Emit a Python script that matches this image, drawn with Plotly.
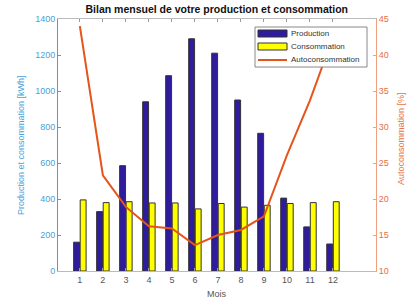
import plotly.graph_objects as go

months = list(range(1, 13))
production = [160, 330, 585, 940, 1085, 1290, 1210, 950, 765, 405, 245, 150]
consommation = [395, 380, 385, 378, 378, 345, 375, 355, 365, 375, 380, 385]
autoconso = [44.0, 23.3, 18.9, 16.2, 15.9, 13.6, 15.0, 15.7, 17.6, 26.1, 33.7, 42.5]
series_names = ["Production", "Consommation", "Autoconsommation"]

blue_axis = "#4b9fd9"
orange_axis = "#f0a080"
orange_label = "#e8703f"
gray = "#555555"
prod_color = "#2e1b9e"
cons_color = "#ffff00"
line_color = "#e5541a"

L, R, T, B = 58, 33, 19, 32
W, H = 409, 303
pw, ph = W - L - R, H - T - B


def px(x):
    return (x - L) / pw


def py(y):
    return (H - B - y) / ph


fig = go.Figure()
fig.add_trace(go.Bar(x=months, y=production, name=series_names[0],
                     marker=dict(color=prod_color, line=dict(color="#333333", width=1))))
fig.add_trace(go.Bar(x=months, y=consommation, name=series_names[1],
                     marker=dict(color=cons_color, line=dict(color="#333333", width=1))))
fig.add_trace(go.Scatter(x=months, y=autoconso, name=series_names[2], yaxis="y2",
                         mode="lines", line=dict(color=line_color, width=2)))

# custom compact legend (box, swatches, labels)
shapes = [
    dict(type="rect", xref="paper", yref="paper", x0=px(255), x1=px(367),
         y0=py(67), y1=py(27), line=dict(color="#888888", width=1), fillcolor="white",
         layer="above"),
    dict(type="rect", xref="paper", yref="paper", x0=px(258), x1=px(287),
         y0=py(37), y1=py(30), line=dict(color="#333333", width=1), fillcolor=prod_color,
         layer="above"),
    dict(type="rect", xref="paper", yref="paper", x0=px(258), x1=px(287),
         y0=py(50), y1=py(43), line=dict(color="#333333", width=1), fillcolor=cons_color,
         layer="above"),
    dict(type="line", xref="paper", yref="paper", x0=px(258), x1=px(287),
         y0=py(60), y1=py(60), line=dict(color=line_color, width=2), layer="above"),
]
annotations = [
    dict(xref="paper", yref="paper", x=px(289), y=py(yc), text=t, showarrow=False,
         xanchor="left", yanchor="middle", font=dict(size=8, color="#333333"))
    for t, yc in zip(series_names, [33.5, 46.5, 60])
]
# axis titles
annotations += [
    dict(xref="paper", yref="paper", x=px(21), y=py(145), showarrow=False,
         text="Production et consommation [kWh]", textangle=-90,
         xanchor="center", yanchor="middle", font=dict(size=9, color=blue_axis)),
    dict(xref="paper", yref="paper", x=px(401), y=py(139), showarrow=False,
         text="Autoconsommation [%]", textangle=-90,
         xanchor="center", yanchor="middle", font=dict(size=9, color=orange_label)),
    dict(xref="paper", yref="paper", x=px(217), y=py(294), showarrow=False,
         text="Mois", xanchor="center", yanchor="middle",
         font=dict(size=9, color=gray)),
]

fig.update_layout(
    width=W, height=H,
    margin=dict(l=L, r=R, t=T, b=B),
    paper_bgcolor="white", plot_bgcolor="white",
    font=dict(family="Liberation Sans, Arial, sans-serif", size=9, color=gray),
    title=dict(text="<b>Bilan mensuel de votre production et consommation</b>",
               x=0.53, xanchor="center", y=0.97, yanchor="middle",
               font=dict(size=10.5, color="#111111")),
    barmode="group", bargap=0.43, bargroupgap=0.1,
    showlegend=False,
    shapes=shapes, annotations=annotations,
    xaxis=dict(range=[0.05, 13.87], tickmode="array", tickvals=months,
               ticktext=[str(m) for m in months], showgrid=False, zeroline=False,
               showline=True, linecolor="#bbbbbb", linewidth=1, mirror="ticks",
               ticks="inside", ticklen=3, tickcolor="#999999", automargin=False,
               tickfont=dict(size=9, color=gray)),
    yaxis=dict(range=[0, 1400], tickmode="array", tickvals=list(range(0, 1401, 200)),
               showgrid=False, zeroline=False, showline=True, linecolor=blue_axis,
               linewidth=1, ticks="inside", ticklen=3, tickcolor=blue_axis,
               automargin=False,
               tickfont=dict(size=9, color=blue_axis)),
    yaxis2=dict(range=[10, 45], tickmode="array", tickvals=list(range(10, 46, 5)),
                overlaying="y", side="right", showgrid=False, zeroline=False,
                showline=True, linecolor=orange_axis, linewidth=1, ticks="inside",
                ticklen=3, tickcolor=orange_axis, automargin=False,
                tickfont=dict(size=9, color=orange_label)),
)

fig.write_html("out.html", config={"displayModeBar": False},
               post_script="document.body.style.margin='0';document.body.style.padding='0';")
